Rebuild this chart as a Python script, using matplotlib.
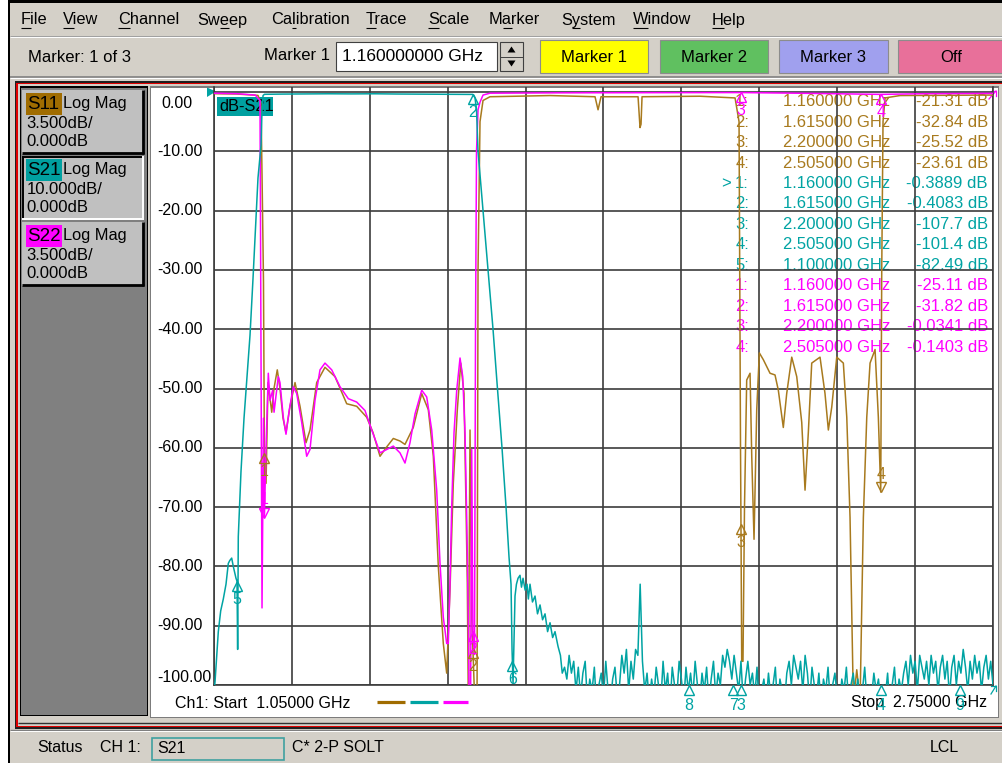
import numpy as np
import matplotlib
matplotlib.use('Agg')
import matplotlib.pyplot as plt
from matplotlib.patches import Rectangle, Polygon
from matplotlib.font_manager import FontProperties
from matplotlib.transforms import offset_copy

W, H = 1003, 763
FONT = 'Liberation Sans'
plt.rcParams['font.family'] = [FONT, 'DejaVu Sans']

GRAY = '#d4d0c8'
C11 = '#a87a1e'
C21 = '#00a3a3'
C22 = '#ff00ff'

###############################################################################
# sweep / scale settings (as shown in the trace buttons)
f_start, f_stop = 1.05, 2.75
div11, div21, div22 = 3.5, 10.0, 3.5
ref_db = 0.0

# S21 trace (GHz, dB)
s21_f = [1.050, 1.0522, 1.0559, 1.0594, 1.0646, 1.0703, 1.0762, 1.0812, 1.0845, 1.0886,
         1.0921, 1.0980, 1.1002, 1.1016, 1.1030, 1.1089, 1.1155, 1.1220, 1.1286, 1.1351,
         1.1417, 1.1460, 1.1526, 1.1548, 1.1570, 1.1600, 1.2000, 1.2500, 1.3000, 1.3500,
         1.4000, 1.4500, 1.5000, 1.5500, 1.5900, 1.6150, 1.6196, 1.6229, 1.6262, 1.6371,
         1.6480, 1.6589, 1.6676, 1.6785, 1.6873, 1.6938, 1.6982, 1.7004, 1.7026, 1.7069,
         1.7100, 1.7135, 1.7178, 1.7210, 1.7244, 1.7290, 1.7331, 1.7360, 1.7396, 1.7450,
         1.7506, 1.7560, 1.7615, 1.7670, 1.7724, 1.7780, 1.7833, 1.7890, 1.7942, 1.8008,
         1.8060, 1.8100]
s21_db = [-101, -99.5, -95, -91, -87.5, -85.5, -83, -79.5, -79, -78.6,
          -80, -82, -82.49, -94, -75, -64, -55, -48, -41, -31.5,
          -21, -14.5, -9, -3, -0.6, -0.3889, -0.35, -0.33, -0.30, -0.32,
          -0.30, -0.34, -0.36, -0.37, -0.39, -0.4083, -1.0, -3.0, -10, -20,
          -30, -40, -49, -60, -70, -78.4, -83, -94, -99.7, -85,
          -83, -82, -81.5, -83.5, -82, -84, -83, -85.5, -83, -86,
          -85, -88, -86.5, -89, -88, -91, -89.5, -92, -91, -93.5,
          -95, -98]

# S21 noise floor, 1.815 .. 2.75 GHz in 5 MHz steps
noise_f = np.linspace(1.815, 2.75, 188)
noise_db = [-97, -99, -95, -98, -96, -101, -97, -102, -98, -96, -103, -99, -101, -97, -104, -100, -98, -102, -96, -101,
            -103, -99, -97, -102, -100, -95, -98, -94, -101, -96, -99, -94, -95, -83, -96, -101, -98, -103, -99, -102,
            -97, -100, -103, -96, -101, -98, -104, -97, -100, -102, -96, -99, -103, -97, -101, -98, -102, -96, -100, -103,
            -98, -101, -97, -103, -99, -96, -102, -98, -100, -95, -97, -94, -96, -99, -95, -98, -101, -96, -103, -99,
            -96, -100, -98, -102, -97, -104, -101, -99, -103, -98, -102, -100, -97, -104, -99, -101, -103, -98, -96, -100,
            -95, -97, -99, -96, -101, -95, -98, -103, -97, -100, -102, -98, -104, -99, -101, -97, -103, -100, -98, -102,
            -104, -99, -101, -97, -103, -100, -98, -102, -99, -104, -101, -97, -103, -100, -102, -98, -101, -99, -103, -100,
            -102, -98, -104, -100, -97, -103, -99, -101, -98, -96, -100, -95, -98, -96, -101, -95, -97, -99, -96, -100,
            -95, -98, -96, -101, -97, -95, -99, -96, -102, -97, -95, -100, -96, -98, -94, -97, -101, -96, -99, -95,
            -98, -96, -101, -97, -95, -99, -96, -100]

# S11 trace (GHz, dB)
s11_f = [1.050, 1.100, 1.146, 1.1526, 1.1559, 1.158, 1.160, 1.1635, 1.1679, 1.176,
         1.1809, 1.1881, 1.194, 1.2006, 1.2071, 1.2159, 1.2268, 1.2377, 1.2508, 1.2595,
         1.2741, 1.2922, 1.3141, 1.3396, 1.3614, 1.3833, 1.397, 1.4123, 1.4254, 1.4413,
         1.4559, 1.4668, 1.4849, 1.5033, 1.5177, 1.5286, 1.5395, 1.5504, 1.5578, 1.565,
         1.5722, 1.581, 1.5884, 1.5956, 1.600, 1.6028, 1.605, 1.6087, 1.6124, 1.615,
         1.6196, 1.624, 1.6262, 1.6305, 1.6371, 1.6523, 1.7833, 1.8815, 1.8881, 1.8946,
         1.9754, 1.9797, 1.9819, 1.9841, 2.1107, 2.1871, 2.1958, 2.199, 2.200, 2.2016,
         2.2044, 2.2077, 2.2125, 2.2198, 2.2235, 2.2285, 2.2344, 2.2401, 2.2488, 2.2634,
         2.2743, 2.2815, 2.2924, 2.2998, 2.3108, 2.3217, 2.3326, 2.3398, 2.347, 2.3544,
         2.3725, 2.3834, 2.3907, 2.3981, 2.409, 2.4234, 2.4309, 2.438, 2.4453, 2.4527,
         2.4599, 2.4671, 2.4745, 2.4817, 2.4926, 2.4998, 2.505, 2.5072, 2.51, 2.5144,
         2.547, 2.75]
s11_db = [-0.1, -0.12, -0.2, -0.7, -7.0, -11.2, -21.31, -23.1, -17.15, -18.9,
          -17.5, -16.4, -17.5, -19.25, -20.1, -18.55, -17.15, -18.55, -20.7, -19.95,
          -17.15, -16.25, -16.8, -18.4, -18.55, -19.2, -20.1, -21.5, -21.0, -20.45,
          -20.6, -20.8, -19.8, -17.8, -18.75, -21.5, -28.0, -32.55, -34.3, -29.4,
          -23.1, -18.75, -16.0, -17.8, -24.5, -29.0, -36.0, -19.95, -31.0, -32.84,
          -36.5, -36.5, -10.5, -1.75, -0.5, -0.28, -0.21, -0.28, -1.05, -0.28,
          -0.28, -2.1, -1.9, -0.28, -0.25, -0.35, -1.75, -21.0, -25.52, -33.6,
          -33.6, -24.5, -17.0, -16.6, -21.5, -26.4, -18.75, -15.4, -15.8, -16.6,
          -16.7, -17.6, -19.8, -17.8, -15.65, -16.8, -19.5, -23.5, -20.1, -16.0,
          -15.65, -17.8, -19.95, -18.6, -15.65, -16.0, -19.2, -25.1, -36.0, -34.1,
          -36.0, -25.1, -19.2, -16.0, -15.2, -19.2, -23.61, -10.5, -1.75, -0.35,
          -0.21, -0.18]

# S22 trace (GHz, dB)
s22_f = [1.050, 1.10, 1.140, 1.1504, 1.1548, 1.158, 1.160, 1.1635, 1.1685, 1.1722,
         1.1781, 1.181, 1.1903, 1.194, 1.2012, 1.2071, 1.2143, 1.2231, 1.2305, 1.2414,
         1.2523, 1.2595, 1.2704, 1.2813, 1.2922, 1.3069, 1.325, 1.3431, 1.3614, 1.3795,
         1.3942, 1.4123, 1.4269, 1.4413, 1.4559, 1.4668, 1.4777, 1.4887, 1.5033, 1.5142,
         1.5251, 1.536, 1.5432, 1.5504, 1.5578, 1.5613, 1.565, 1.5687, 1.5738, 1.5797,
         1.5869, 1.5928, 1.5978, 1.6015, 1.605, 1.6072, 1.6098, 1.6124, 1.615, 1.6185,
         1.6207, 1.6229, 1.6262, 1.6305, 1.6371, 1.6523, 1.80, 2.00, 2.20, 2.35,
         2.505, 2.60, 2.75]
s22_db = [-0.07, -0.1, -0.18, -0.5, -30.45, -19.25, -25.11, -21.0, -16.6, -18.2,
          -17.6, -18.9, -16.8, -17.15, -19.2, -20.2, -18.76, -17.4, -17.8, -19.5,
          -21.5, -21.1, -18.2, -16.4, -16.0, -16.4, -17.4, -18.1, -18.3, -18.8,
          -19.95, -21.3, -21.1, -20.9, -21.3, -21.9, -20.7, -19.0, -17.6, -18.0,
          -19.95, -23.5, -27.8, -31.0, -32.55, -32.55, -29.0, -24.5, -20.1, -17.6,
          -15.7, -16.8, -20.1, -25.1, -31.0, -37.0, -37.0, -21.1, -31.82, -33.2,
          -14.0, -3.5, -1.05, -0.6, -0.18, -0.07, -0.05, -0.04, -0.0341, -0.08,
          -0.1403, -0.1, -0.08]

# marker readout (trace markers listed in the table)
mk11_f = [1.160, 1.615, 2.200, 2.505]
mk11_db = [-21.31, -32.84, -25.52, -23.61]
mk21_f = [1.160, 1.615, 2.200, 2.505, 1.100]
mk21_db = [-0.3889, -0.4083, -107.7, -101.4, -82.49]
mk22_f = [1.160, 1.615, 2.200, 2.505]
mk22_db = [-25.11, -31.82, -0.0341, -0.1403]
# extra S21 markers shown on screen only
mk21x_n = [6, 7, 8, 9]
mk21x_f = [1.701, 2.183, 2.087, 2.678]
mk21x_db = [-96.0, -104.0, -103.0, -102.5]

###############################################################################

fig = plt.figure(figsize=(W / 100, H / 100), dpi=100)
bg = fig.add_axes([0, 0, 1, 1])
bg.set_xlim(0, W)
bg.set_ylim(H, 0)
bg.axis('off')


def rect(x0, y0, x1, y1, fc, ec='none', lw=0, z=1):
    bg.add_patch(Rectangle((x0, y0), x1 - x0, y1 - y0, fc=fc, ec=ec, lw=lw, zorder=z))


def hline(y, x0, x1, c, lw=1.0, z=2):
    bg.plot([x0, x1], [y, y], color=c, lw=lw, zorder=z, solid_capstyle='butt')


def vline(x, y0, y1, c, lw=1.0, z=2):
    bg.plot([x, x], [y0, y1], color=c, lw=lw, zorder=z, solid_capstyle='butt')


def txt(x, y, s, size=11.5, c='black', ha='left', z=4):
    bg.text(x, y, s, fontsize=size, color=c, ha=ha, va='center', zorder=z, family=FONT)


# window background
rect(0, 0, W, H, 'white', z=0)
rect(8, 0, W, H, 'black', z=0)
rect(10, 3, W, H, GRAY, z=0)

# menu bar
renderer = fig.canvas.get_renderer()
menu_fp = FontProperties(family=FONT, size=11.8)
menu = [('File', 21, 0), ('View', 63, 0), ('Channel', 118, 0), ('Sweep', 197, 2),
        ('Calibration', 271, 2), ('Trace', 366, 0), ('Scale', 428, 0), ('Marker', 489, 1),
        ('System', 561, 1), ('Window', 633, 0), ('Help', 712, 0)]
for name, x, k in menu:
    txt(x, 20, name, 11.8)
    w0 = renderer.get_text_width_height_descent(name[:k], menu_fp, ismath=False)[0] if k else 0
    w1 = renderer.get_text_width_height_descent(name[:k + 1], menu_fp, ismath=False)[0]
    hline(27.5, x + w0, x + w1, 'black', 0.8)
hline(35.5, 10, W, '#a0a0a0', 0.7)
hline(36.5, 10, W, 'white', 0.7)

# toolbar
txt(28, 57, 'Marker: 1 of 3', 12)
txt(264, 56, 'Marker 1', 12)
rect(336, 42, 497, 71, 'white', ec='#404040', lw=0.8)
txt(342, 56.5, '1.160000000 GHz', 12.5)
rect(500, 42, 523, 71, GRAY, ec='#404040', lw=0.8)
hline(56.5, 500, 523, '#404040', 0.7)
bg.add_patch(Polygon([(511.5, 46.5), (507.5, 52.5), (515.5, 52.5)], fc='black', zorder=3))
bg.add_patch(Polygon([(507.5, 60.5), (515.5, 60.5), (511.5, 66.5)], fc='black', zorder=3))
for label, x0, x1, fc in [('Marker 1', 540, 648, '#ffff00'), ('Marker 2', 660, 768, '#60c060'),
                          ('Marker 3', 779, 888, '#a0a0ee'), ('Off', 898, 1004, '#e8709a')]:
    rect(x0, 40, x1, 73, fc, ec='#8c8c8c', lw=0.8)
    txt((x0 + x1) / 2, 57, label, 12, ha='center')
hline(76.5, 10, W, '#808080', 1.2)
hline(78.3, 10, W, 'white', 0.8)

# channel window frame (red outline)
rect(15, 81, W + 1, 728.5, '#202020')
rect(16.5, 82.5, W + 1, 727, '#e00000')
rect(18, 84, W + 1, 725.5, GRAY)
hline(722.5, 18, W, '#303030', 1.0)

# trace selector panel
rect(20, 86, 148, 716, 'black')
rect(21.5, 87.5, 147.5, 715, '#808080')
tags = [('S11', '#a06c00', div11), ('S21', '#00a0a0', div21), ('S22', '#ff00ff', div22)]
for i, (name, col, div) in enumerate(tags):
    y0 = 90 + 66 * i
    y1 = y0 + 64
    rect(22.5, y0, 144, y1, '#c0c0c0', z=2)
    if i == 1:
        hline(y0 + 0.8, 22.5, 144, 'black', 1.4, z=3)
        vline(23.3, y0, y1, 'black', 1.4, z=3)
        hline(y1 - 0.8, 22.5, 144, 'white', 1.4, z=3)
        vline(143.2, y0, y1, 'white', 1.4, z=3)
    else:
        hline(y1 - 1, 22.5, 144, 'black', 2.0, z=3)
        vline(143, y0, y1, 'black', 2.0, z=3)
    rect(26, y0 + 3, 62.5, y0 + 25, col, z=3)
    txt(27, y0 + 14.5, name, 13.5)
    txt(63.5, y0 + 13.5, 'Log Mag', 11.8)
    txt(26.5, y0 + 33, f'{div:.3f}dB/', 12)
    txt(26.5, y0 + 51, f'{ref_db:.3f}dB', 12)

# plot window
rect(150, 86, 999.5, 718, '#7c7c7c')
rect(151.5, 87.5, 998, 717, 'white')

# y axis labels (S21 scale)
PX_DB = 5.93
for v in range(0, -101, -10):
    y = 92 + (-v) * PX_DB
    x = 157
    if v == 0:
        y, x = 103.5, 161
    elif v == -100:
        y = 678
    txt(x, y, f'{v:.2f}', 11.5)

# reference marker and active trace tag
bg.add_patch(Polygon([(207, 87.5), (207, 97), (216, 91.5)], fc=C21, zorder=3))
rect(217, 97, 273, 116, '#00a0a0', z=3)
txt(219, 106.5, 'dB-S21', 11.8)

# start / stop annotation and trace colour keys
txt(175, 703, f'Ch1: Start  {f_start:.5f} GHz', 11.5)
txt(851, 703, f'Stop  {f_stop:.5f} GHz', 11.5)
hline(702, 377, 405, '#a06c00', 2.3)
hline(702, 410, 438, C21, 2.3)
hline(702, 443, 468, C22, 2.3)

# off-screen marker pointers at the right edge
bg.plot([989, 996], [99, 91], color=C22, lw=0.9, zorder=5)
bg.plot([991, 996, 996], [91, 91, 96], color=C22, lw=0.9, zorder=5)
bg.plot([991, 996], [694, 686], color=C21, lw=0.9, zorder=5)
bg.plot([991, 996, 996], [686, 686, 691], color=C21, lw=0.9, zorder=5)

# marker table
rows = []
rows += [(C11, '', n + 1, f, v) for n, (f, v) in enumerate(zip(mk11_f, mk11_db))]
rows += [(C21, '>' if n == 0 else '', n + 1, f, v) for n, (f, v) in enumerate(zip(mk21_f, mk21_db))]
rows += [(C22, '', n + 1, f, v) for n, (f, v) in enumerate(zip(mk22_f, mk22_db))]
for k, (col, pre, num, f, v) in enumerate(rows):
    y = 101.7 + k * 20.45
    txt(749, y, f'{num}:', 12, col, ha='right')
    if pre:
        txt(721, y, pre, 12, col)
    txt(890, y, f'{f:.6f} GHz', 12, col, ha='right')
    txt(988, y, f'{v:.4g} dB', 12, col, ha='right')

# status bar
hline(729.8, 10, W, '#808080', 1.0)
hline(730.8, 10, W, 'white', 0.7)
txt(37, 748, 'Status', 11.5)
txt(100, 748, 'CH 1:', 11.5)
rect(152, 738, 284, 759.5, GRAY, ec='#40a0a0', lw=1.2)
txt(157, 748.5, 'S21', 11.5)
txt(292, 748, 'C* 2-P SOLT', 11.5)
txt(930, 748, 'LCL', 11.5)

###############################################################################
# measurement grid
y_top = 92 - 0.8 * PX_DB
ax = fig.add_axes([214 / W, 1 - 685 / H, (993 - 214) / W, (685 - y_top) / H])
ax.set_zorder(2)
ax.patch.set_alpha(0)
ax.set_xlim(f_start, f_stop)
ax.set_ylim(-100, 0.8)
ax.set_xticks(np.linspace(f_start, f_stop, 11))
ax.set_yticks(np.arange(-100, 1, 10))
ax.grid(True, color='#3c3c3c', lw=1.2)
ax.tick_params(length=0, labelbottom=False, labelleft=False)
for s in ['left', 'bottom', 'right']:
    ax.spines[s].set_color('#3c3c3c')
    ax.spines[s].set_linewidth(1.2)
ax.spines['top'].set_visible(False)


def disp(db, div):
    # every trace is drawn against the S21 graticule
    return np.asarray(db, dtype=float) * div21 / div


ax.plot(s11_f, disp(s11_db, div11), color=C11, lw=1.1, zorder=3)
ax.plot(s22_f, disp(s22_db, div22), color=C22, lw=1.1, zorder=4)
ax.plot(np.concatenate([s21_f, noise_f]), np.concatenate([s21_db, noise_db]),
        color=C21, lw=1.1, zorder=5)


def draw_marker(f, v, num, col, up=True):
    vv = max(v, -100.0)
    sign = -1 if up else 1
    gap = 21 if v < -100 else 18
    tm = offset_copy(ax.transData, fig=fig, x=0, y=sign * 4.9, units='dots')
    tt = offset_copy(ax.transData, fig=fig, x=0, y=sign * gap, units='dots')
    ax.plot([f], [vv], transform=tm, marker='^' if up else 'v', ms=7, mfc='none',
            mec=col, mew=1.0, clip_on=False, zorder=6)
    ax.text(f, vv, str(num), transform=tt, color=col, fontsize=11.5, ha='center',
            va='center', clip_on=False, zorder=6, family=FONT)


for n, (f, v) in enumerate(zip(mk11_f, mk11_db)):
    draw_marker(f, v * div21 / div11, n + 1, C11, up=(n != 3))
for n, (f, v) in enumerate(zip(mk22_f, mk22_db)):
    draw_marker(f, v * div21 / div22, n + 1, C22, up=(n != 0))
for n, (f, v) in enumerate(zip(mk21_f, mk21_db)):
    if n == 0:
        continue
    draw_marker(f, v, n + 1, C21)
for n, f, v in zip(mk21x_n, mk21x_f, mk21x_db):
    draw_marker(f, v, n, C21)

fig.savefig('out.png', dpi=100)
